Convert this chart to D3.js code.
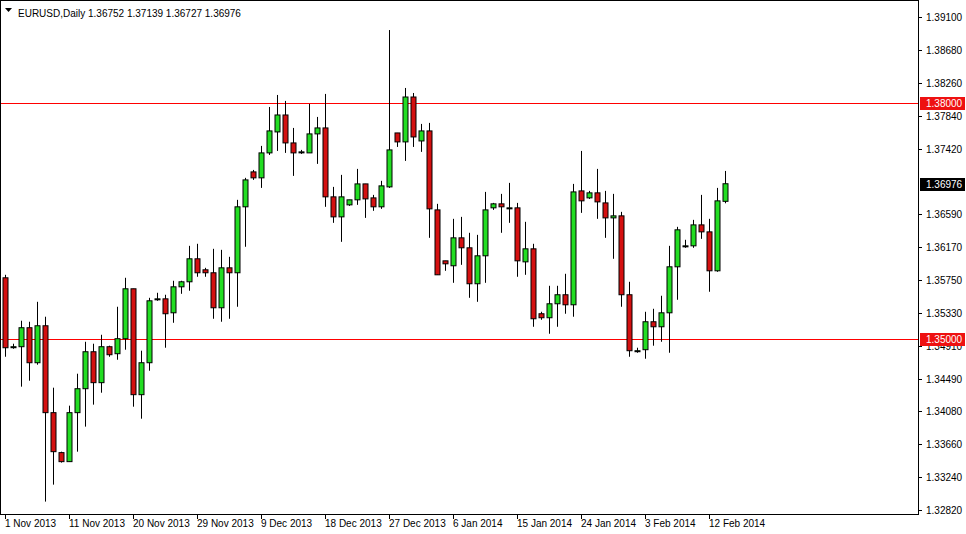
<!DOCTYPE html>
<html>
<head>
<meta charset="utf-8">
<script src="https://cdn.jsdelivr.net/npm/d3@7"></script>
<style>
  body { margin: 0; background: #fff; }
  svg { font-family: "Liberation Sans", "DejaVu Sans", sans-serif; font-size: 10px; }
</style>
</head>
<body>
<script>
var symbol = 'EURUSD,Daily';
// open, high, low, close per daily bar
var opens  = [1.35778,1.34900,1.34900,1.35142,1.34696,1.35167,1.34060,1.33551,1.33436,1.34060,1.34365,1.34836,1.34442,1.34900,1.34811,1.35002,1.35638,1.34289,1.34696,1.35510,1.35510,1.35332,1.35663,1.35727,1.36020,1.35880,1.35842,1.35396,1.35905,1.35842,1.36682,1.37127,1.37051,1.37369,1.37636,1.37852,1.37496,1.37382,1.37369,1.37611,1.37687,1.36809,1.36554,1.36707,1.36771,1.36974,1.36796,1.36682,1.36936,1.37623,1.37509,1.38081,1.37521,1.37649,1.36643,1.35994,1.35931,1.36287,1.36160,1.35702,1.36058,1.36669,1.36720,1.36669,1.36669,1.35981,1.36147,1.35320,1.35269,1.35447,1.35562,1.35434,1.36885,1.36796,1.36860,1.36732,1.36541,1.36567,1.35562,1.34849,1.34862,1.35218,1.35154,1.35332,1.35918,1.36185,1.36185,1.36452,1.36363,1.35867,1.36752];
var highs  = [1.35816,1.34938,1.35231,1.35218,1.35472,1.35282,1.34378,1.33563,1.34149,1.34556,1.34963,1.34938,1.35052,1.34913,1.35409,1.35778,1.35638,1.34849,1.35523,1.35587,1.35562,1.35740,1.35740,1.36185,1.36211,1.35905,1.36147,1.36134,1.36045,1.36771,1.37051,1.37152,1.37458,1.37954,1.38107,1.38031,1.37687,1.37407,1.37992,1.37827,1.38120,1.36936,1.37089,1.36771,1.37165,1.36974,1.36834,1.37013,1.38934,1.37623,1.38196,1.38132,1.37738,1.37751,1.36720,1.35994,1.36529,1.36554,1.36351,1.36325,1.36872,1.36732,1.36847,1.36987,1.36732,1.36491,1.36211,1.35345,1.35676,1.35676,1.35829,1.36974,1.37394,1.36885,1.37165,1.36885,1.36847,1.36618,1.35727,1.34887,1.35345,1.35383,1.35549,1.36185,1.36427,1.36262,1.36516,1.36834,1.36529,1.36923,1.37139];
var lows   = [1.34772,1.34874,1.34391,1.34467,1.34671,1.32927,1.33143,1.33424,1.33436,1.33563,1.33882,1.34162,1.34314,1.34772,1.34734,1.34862,1.34136,1.33983,1.34594,1.35485,1.34887,1.35205,1.35574,1.35613,1.35791,1.35791,1.35256,1.35218,1.35256,1.35409,1.36173,1.37025,1.36923,1.37343,1.37394,1.37369,1.37076,1.37356,1.37369,1.37229,1.36682,1.36478,1.36236,1.36694,1.36707,1.36541,1.36631,1.36656,1.36923,1.37445,1.37267,1.37445,1.37382,1.36287,1.35816,1.35867,1.35714,1.35943,1.35523,1.35472,1.35714,1.36643,1.36351,1.36478,1.35791,1.35816,1.35154,1.35243,1.35065,1.35154,1.35320,1.35282,1.36605,1.36783,1.36529,1.36287,1.36020,1.35409,1.34772,1.34823,1.34747,1.34913,1.34963,1.34823,1.35498,1.36160,1.36160,1.36274,1.35600,1.35854,1.36727];
var closes = [1.34887,1.34900,1.35142,1.34696,1.35167,1.34060,1.33563,1.33436,1.34060,1.34365,1.34836,1.34442,1.34900,1.34798,1.35002,1.35638,1.34289,1.34696,1.35485,1.35510,1.35320,1.35663,1.35727,1.36020,1.35842,1.35842,1.35396,1.35905,1.35842,1.36682,1.37025,1.37051,1.37369,1.37649,1.37852,1.37496,1.37369,1.37382,1.37611,1.37687,1.36809,1.36554,1.36809,1.36771,1.36974,1.36783,1.36682,1.36949,1.37407,1.37509,1.38081,1.37572,1.37649,1.36656,1.35816,1.35956,1.36287,1.36160,1.35702,1.36058,1.36643,1.36720,1.36682,1.36669,1.35994,1.36147,1.35256,1.35269,1.35447,1.35562,1.35434,1.36872,1.36758,1.36860,1.36745,1.36541,1.36567,1.35562,1.34849,1.34849,1.35218,1.35154,1.35332,1.35918,1.36389,1.36185,1.36452,1.36363,1.35867,1.36758,1.36976];
var dateLabels = ['1 Nov 2013','11 Nov 2013','20 Nov 2013','29 Nov 2013','9 Dec 2013','18 Dec 2013','27 Dec 2013','6 Jan 2014','15 Jan 2014','24 Jan 2014','3 Feb 2014','12 Feb 2014'];
var dateBars = [0, 8, 16, 24, 32, 40, 48, 56, 64, 72, 80, 88];
var priceTicks = [1.39100,1.38680,1.38260,1.37840,1.37420,1.36590,1.36170,1.35750,1.35330,1.34910,1.34490,1.34080,1.33660,1.33240,1.32820];
var levels = [1.38000, 1.35000];

var W = 966, H = 534, plotRight = 918, plotBottom = 514;
var svg = d3.select('body').append('svg').attr('width', W).attr('height', H);

var x = d3.scaleLinear().domain([0, 90]).range([5, 725]);
var y = d3.scaleLinear().domain([1.32820, 1.39100]).range([510, 17]);

// frame
svg.append('rect').attr('x', 0.5).attr('y', 0.5).attr('width', plotRight).attr('height', plotBottom)
    .attr('fill', 'none').attr('stroke', '#000').attr('shape-rendering', 'crispEdges');

// price axis
var ya = svg.append('g');
ya.selectAll('line').data(priceTicks).enter().append('line')
    .attr('x1', plotRight).attr('x2', plotRight + 4)
    .attr('y1', function(d){return Math.round(y(d)) + 0.5;})
    .attr('y2', function(d){return Math.round(y(d)) + 0.5;})
    .attr('stroke', '#000');
ya.selectAll('text').data(priceTicks).enter().append('text')
    .attr('x', plotRight + 8).attr('y', function(d){return y(d) + 4;})
    .text(function(d){return d.toFixed(5);});

// horizontal levels
levels.forEach(function(v) {
    var yy = Math.round(y(v));
    svg.append('rect').attr('x', 1).attr('y', yy).attr('width', plotRight - 1).attr('height', 1)
        .attr('fill', '#ff0000');
});

// candles
var bars = d3.range(opens.length);
var g = svg.append('g');
g.selectAll('line.wick').data(bars).enter().append('line')
    .attr('x1', function(i){return Math.round(x(i)) + 0.5;})
    .attr('x2', function(i){return Math.round(x(i)) + 0.5;})
    .attr('y1', function(i){return y(highs[i]);})
    .attr('y2', function(i){return y(lows[i]);})
    .attr('stroke', '#000');
g.selectAll('rect.body').data(bars).enter().append('rect')
    .attr('x', function(i){return Math.round(x(i)) - 2;})
    .attr('width', 5)
    .attr('y', function(i){return y(Math.max(opens[i], closes[i]));})
    .attr('height', function(i){return Math.max(1, Math.abs(y(opens[i]) - y(closes[i])));})
    .attr('fill', function(i){return closes[i] >= opens[i] ? '#22dd22' : '#d41010';})
    .attr('stroke', '#000');

function priceBox(v, fill) {
    var yy = Math.round(y(v));
    svg.append('rect').attr('x', plotRight + 2).attr('y', yy - 6).attr('width', 45).attr('height', 13).attr('fill', fill);
    svg.append('text').attr('x', plotRight + 8).attr('y', yy + 4).attr('fill', '#fff').text(v.toFixed(5));
}
levels.forEach(function(v){ priceBox(v, '#ee1111'); });
priceBox(closes[closes.length - 1], '#000');

// date axis
var xa = svg.append('g');
xa.selectAll('line').data(dateBars).enter().append('line')
    .attr('x1', function(i){return Math.round(x(i)) + 0.5;})
    .attr('x2', function(i){return Math.round(x(i)) + 0.5;})
    .attr('y1', plotBottom).attr('y2', plotBottom + 5).attr('stroke', '#000');
xa.selectAll('text').data(dateBars).enter().append('text')
    .attr('x', function(i){return x(i);}).attr('y', plotBottom + 13)
    .text(function(d, k){return dateLabels[k];});

// header
svg.append('path').attr('d', 'M5,8 L12,8 L8.5,12 Z').attr('fill', '#000');
var last = opens.length - 1;
svg.append('text').attr('x', 18).attr('y', 17)
    .text(symbol + '  ' + [opens[last], highs[last], lows[last], closes[last]].map(function(v){return v.toFixed(5);}).join(' '));
</script>
</body>
</html>
